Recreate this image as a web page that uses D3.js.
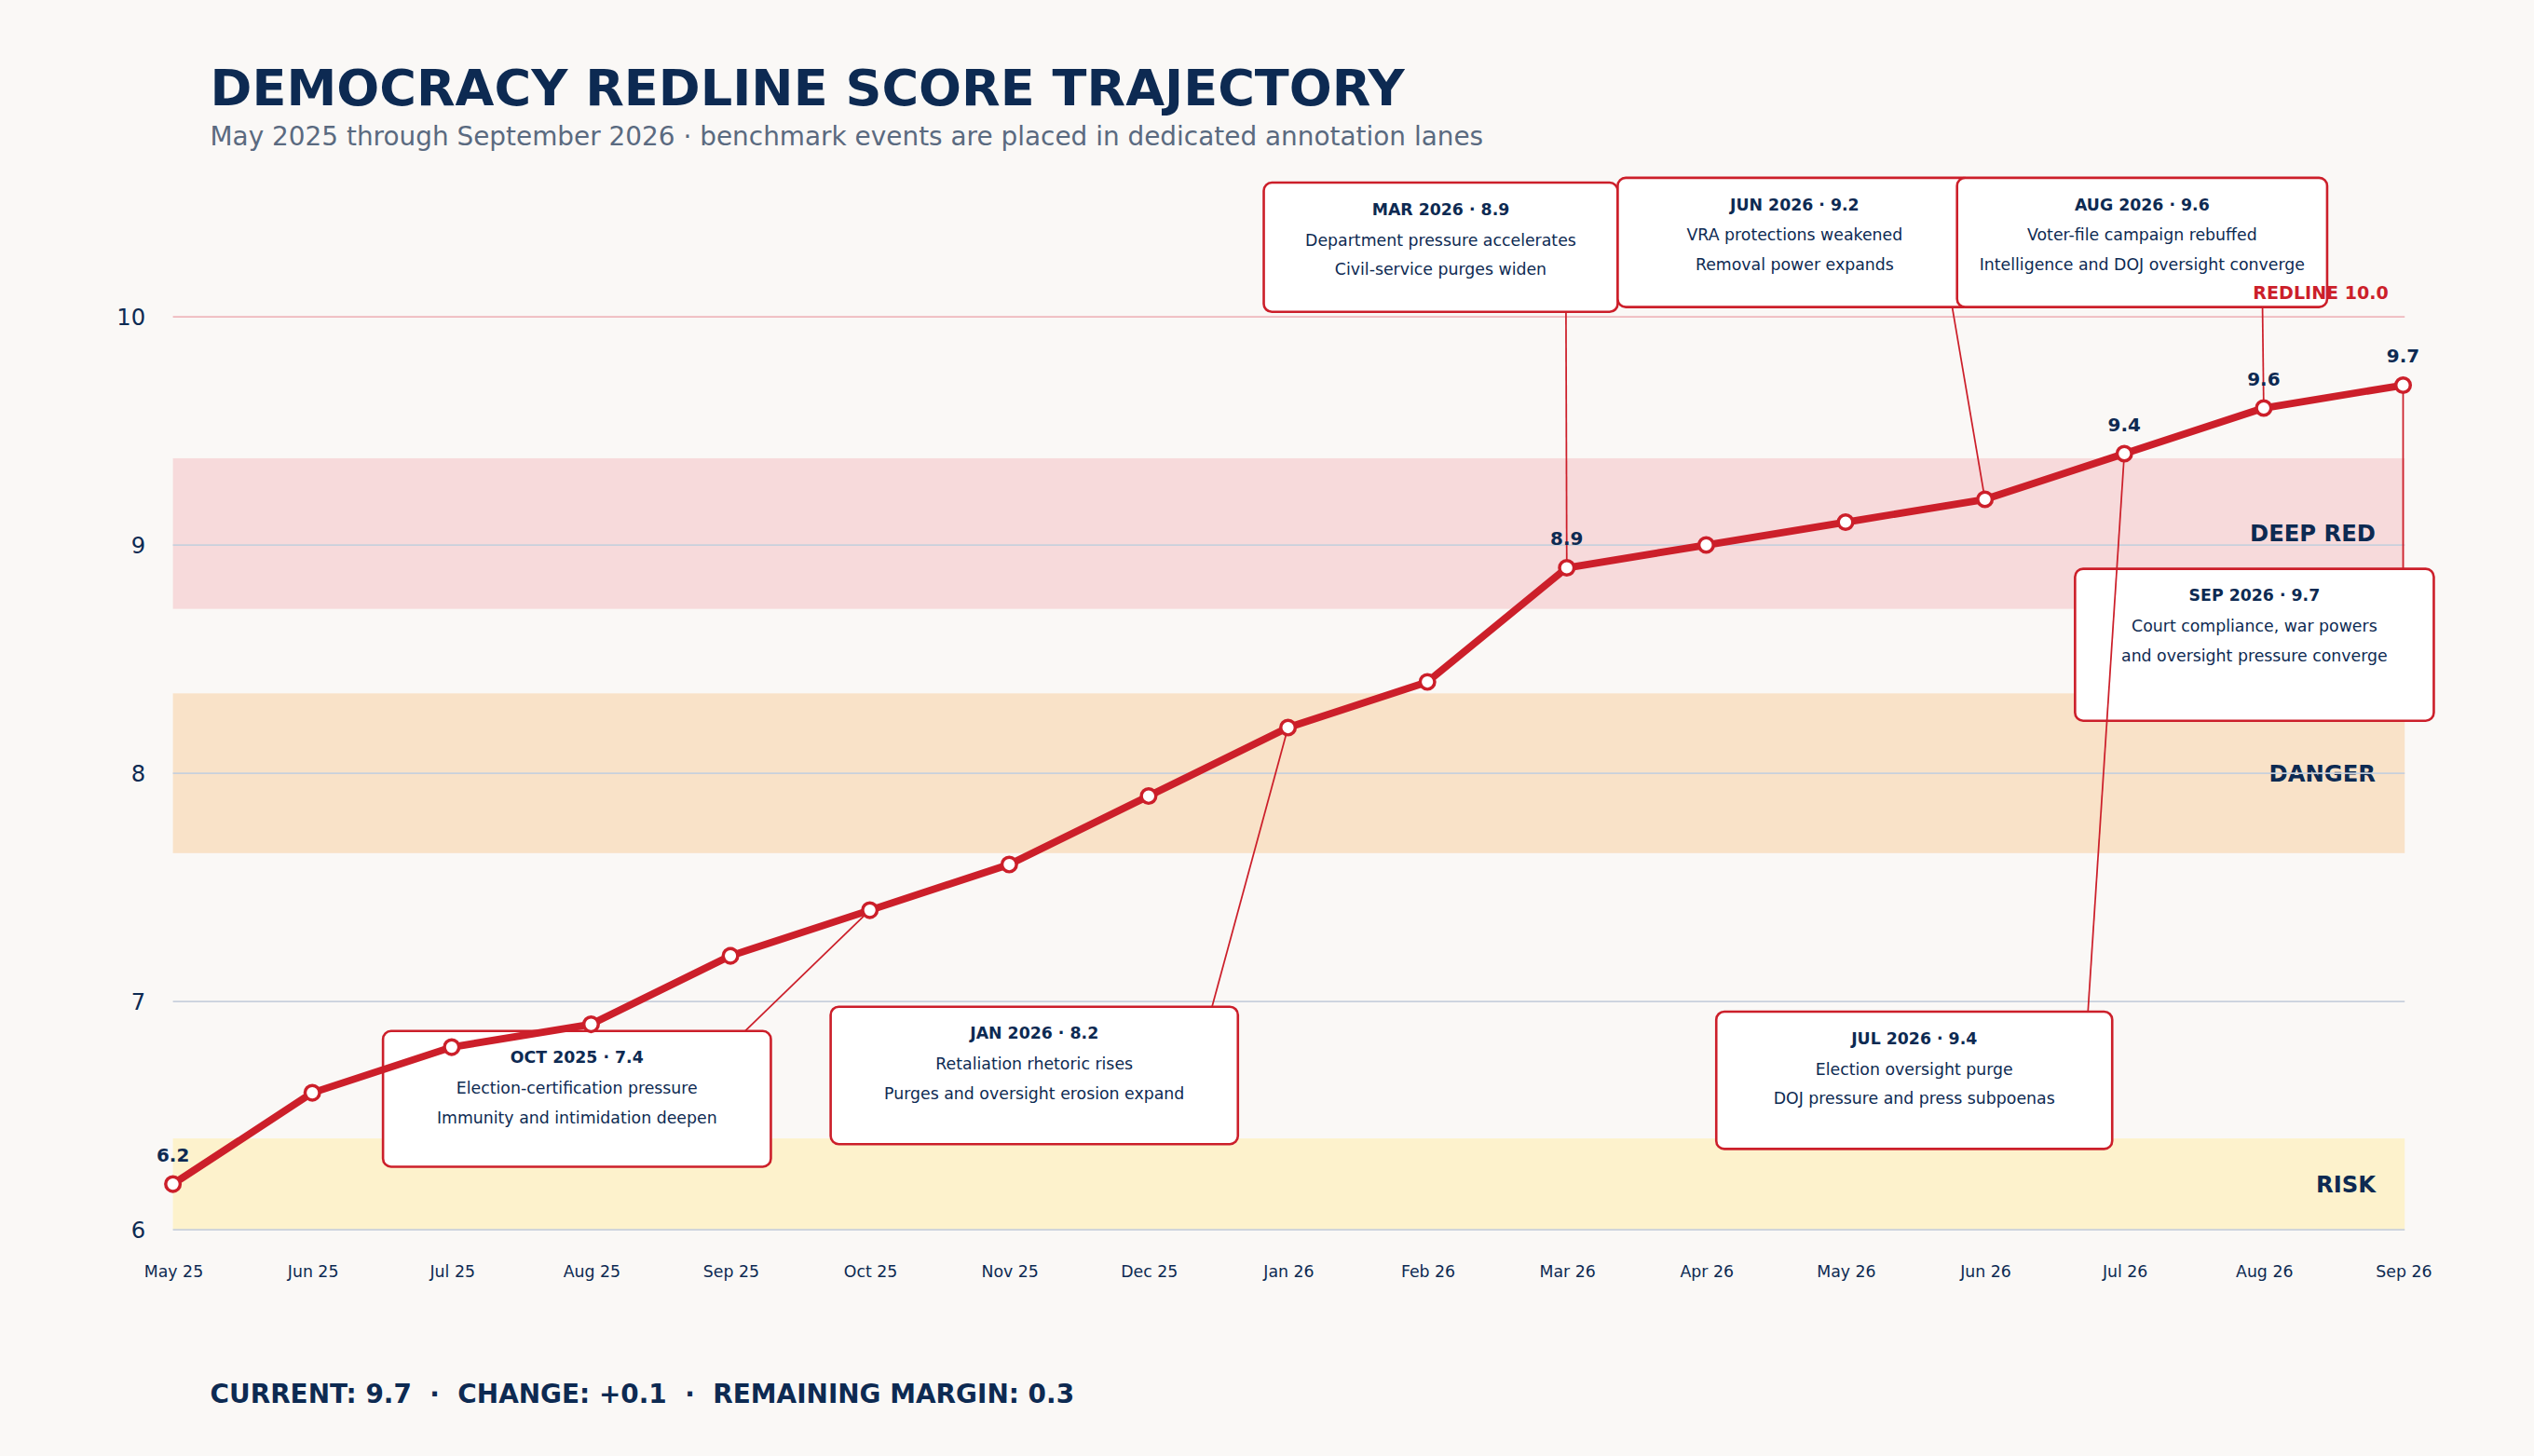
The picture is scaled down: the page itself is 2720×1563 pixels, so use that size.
<!DOCTYPE html>
<html><head><meta charset="utf-8">
<script src="https://cdn.jsdelivr.net/npm/d3@7"></script>
<style>html,body{margin:0;padding:0;background:#faf8f6;}svg{display:block;font-family:"DejaVu Sans",sans-serif;}</style>
</head><body><svg id="c" width="2720" height="1563" viewBox="0 0 1568 901"></svg>
<script>
const months = ["May 25","Jun 25","Jul 25","Aug 25","Sep 25","Oct 25","Nov 25","Dec 25","Jan 26","Feb 26","Mar 26","Apr 26","May 26","Jun 26","Jul 26","Aug 26","Sep 26"];
const scores = [6.2,6.6,6.8,6.9,7.2,7.4,7.6,7.9,8.2,8.4,8.9,9.0,9.1,9.2,9.4,9.6,9.7];
const labeledIdx = [0,10,14,15,16];
const yTicks = [6,7,8,9,10];
const bandNames = ["RISK","DANGER","DEEP RED"];
const bandLo = [6.0,7.65,8.72];
const bandHi = [6.4,8.35,9.38];
const bandLabelAt = [6.2,8.0,9.05];
const bandColors = ["#fdf2cc","#f9e2c8","#f7dadb"];
const eventIdx = [5,8,10,13,14,15,16];
const eventTitles = ["OCT 2025 · 7.4","JAN 2026 · 8.2","MAR 2026 · 8.9","JUN 2026 · 9.2","JUL 2026 · 9.4","AUG 2026 · 9.6","SEP 2026 · 9.7"];
const eventLine1 = ["Election-certification pressure","Retaliation rhetoric rises","Department pressure accelerates","VRA protections weakened","Election oversight purge","Voter-file campaign rebuffed","Court compliance, war powers"];
const eventLine2 = ["Immunity and intimidation deepen","Purges and oversight erosion expand","Civil-service purges widen","Removal power expands","DOJ pressure and press subpoenas","Intelligence and DOJ oversight converge","and oversight pressure converge"];
const redline = 10;

// layout (box geometry) – not data
const boxes = [
 {x:237,y:638,w:240,h:84,ax:461,ay:638},
 {x:514,y:623,w:252,h:85,ax:750,ay:623},
 {x:782,y:113,w:219,h:80,ax:969,ay:193},
 {x:1001,y:110,w:219,h:80,ax:1208,ay:190},
 {x:1062,y:626,w:245,h:85,ax:1292,ay:626},
 {x:1211,y:110,w:229,h:80,ax:1400,ay:190},
 {x:1284,y:352,w:222,h:94,ax:1487,ay:352}
];

const svg = d3.select("#c");
const navy="#0d2a52", red="#cc1f2a";
svg.append("rect").attr("width",1568).attr("height",901).attr("fill","#faf8f6");
const x = d3.scalePoint().domain(months).range([107,1487]);
const y = d3.scaleLinear().domain([6,10]).range([761,196]);

bandNames.forEach((n,i)=>{
  svg.append("rect").attr("x",107).attr("width",1381).attr("y",y(bandHi[i])).attr("height",y(bandLo[i])-y(bandHi[i])).attr("fill",bandColors[i]);
});
bandNames.forEach((n,i)=>{
  svg.append("text").attr("x",1470).attr("y",y(bandLabelAt[i])).attr("dy","0.35em").attr("text-anchor","end")
   .attr("font-size",14).attr("font-weight","bold").attr("fill",navy).text(n);
});
svg.append("g").selectAll("line").data(yTicks.filter(t=>t<10)).join("line")
 .attr("x1",107).attr("x2",1488).attr("y1",d=>y(d)).attr("y2",d=>y(d)).attr("stroke","#c8d0dc").attr("stroke-width",1);
svg.append("line").attr("x1",107).attr("x2",1488).attr("y1",y(redline)).attr("y2",y(redline)).attr("stroke","#efb8bd").attr("stroke-width",1);

const ya = svg.append("g").attr("transform","translate(107,0)").call(d3.axisLeft(y).tickValues(yTicks).tickSize(0).tickPadding(17).tickFormat(d3.format("d")));
ya.select(".domain").remove();
ya.selectAll("text").attr("font-size",14).attr("fill",navy).attr("font-family","DejaVu Sans");
const xa = svg.append("g").attr("transform","translate(0,761)").call(d3.axisBottom(x).tickSize(0).tickPadding(22));
xa.select(".domain").remove();
xa.selectAll("text").attr("font-size",10).attr("fill",navy).attr("font-family","DejaVu Sans");

// boxes
eventIdx.forEach((k,i)=>{
  const b=boxes[i], cx=b.x+b.w/2;
  const g=svg.append("g");
  g.append("rect").attr("x",b.x).attr("y",b.y).attr("width",b.w).attr("height",b.h).attr("rx",5).attr("fill","#fff").attr("stroke",red).attr("stroke-width",1.5);
  g.append("text").attr("x",cx).attr("y",b.y+20).attr("text-anchor","middle").attr("font-size",10).attr("font-weight","bold").attr("fill",navy).text(eventTitles[i]);
  g.append("text").attr("x",cx).attr("y",b.y+39).attr("text-anchor","middle").attr("font-size",10).attr("fill",navy).text(eventLine1[i]);
  g.append("text").attr("x",cx).attr("y",b.y+57).attr("text-anchor","middle").attr("font-size",10).attr("fill",navy).text(eventLine2[i]);
});
svg.append("text").attr("x",1478).attr("y",185).attr("text-anchor","end").attr("font-size",11).attr("font-weight","bold").attr("fill",red).text("REDLINE "+redline.toFixed(1));
// leaders
eventIdx.forEach((k,i)=>{
  svg.append("line").attr("x1",boxes[i].ax).attr("y1",boxes[i].ay).attr("x2",x(months[k])).attr("y2",y(scores[k])).attr("stroke",red).attr("stroke-width",1);
});
// line
svg.append("path").datum(scores).attr("fill","none").attr("stroke",red).attr("stroke-width",4.5).attr("stroke-linejoin","round")
 .attr("d",d3.line().x((d,i)=>x(months[i])).y(d=>y(d)));
svg.append("g").selectAll("circle").data(scores).join("circle").attr("cx",(d,i)=>x(months[i])).attr("cy",d=>y(d)).attr("r",4.5)
 .attr("fill","#fff").attr("stroke",red).attr("stroke-width",2);
labeledIdx.forEach(k=>{
  svg.append("text").attr("x",x(months[k])).attr("y",y(scores[k])-14).attr("text-anchor","middle").attr("font-size",11.5).attr("font-weight","bold").attr("fill",navy).text(scores[k].toFixed(1));
});
svg.append("text").attr("x",130).attr("y",65).attr("font-size",31.2).attr("font-weight","bold").attr("fill",navy).text("DEMOCRACY REDLINE SCORE TRAJECTORY");
svg.append("text").attr("x",130).attr("y",90).attr("font-size",16.1).attr("fill","#5a6a80").text("May 2025 through September 2026 · benchmark events are placed in dedicated annotation lanes");
const last=scores[scores.length-1], prev=scores[scores.length-2];
svg.append("text").attr("x",130).attr("y",868).attr("font-size",16.1).attr("font-weight","bold").attr("fill",navy).attr("xml:space","preserve")
 .text(`CURRENT: ${last.toFixed(1)}  ·  CHANGE: +${(last-prev).toFixed(1)}  ·  REMAINING MARGIN: ${(redline-last).toFixed(1)}`);
</script></body></html>
